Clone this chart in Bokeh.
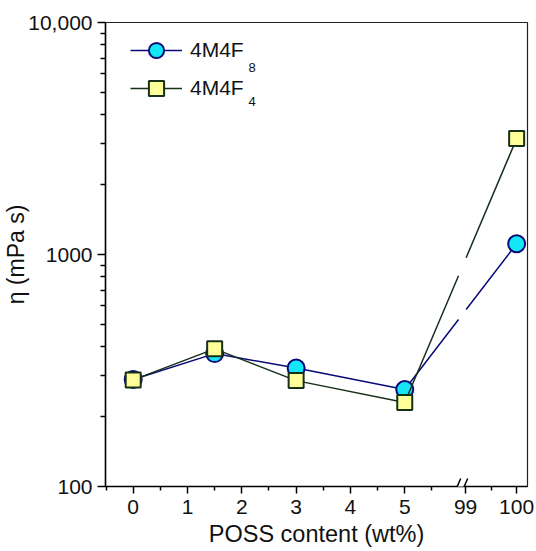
import numpy as np
from bokeh.plotting import figure
from bokeh.models import (FixedTicker, Legend, LegendItem, Label, Arrow,
                          BoxAnnotation, Range1d)
from bokeh.embed import file_html
from bokeh.resources import INLINE

# ---------------- data ----------------
poss_wt = [0, 1.5, 3, 5, 100]
eta_4m4f8 = [289, 374, 324, 262, 1112]
eta_4m4f4 = [288, 392, 286, 230, 3160]
series_label = ["4M4F", "4M4F"]
series_sub = ["8", "4"]

x_major_ticks = [0, 1, 2, 3, 4, 5, 99, 100]
x_major_labels = ["0", "1", "2", "3", "4", "5", "99", "100"]
x_minor_ticks = [-0.5, 0.5, 1.5, 2.5, 3.5, 4.5, 5.5, 99.5]
y_major_ticks = [100, 1000, 10000]
y_major_labels = ["100", "1000", "10,000"]
y_minor_ticks = [m * d for d in (100, 1000) for m in range(2, 10)]

# ---------------- broken x-axis transform ----------------
LOW_END = 5.0
HIGH_START = 99.0
HIGH_POS = 6.12
HIGH_SCALE = 0.94
GAP = (5.99, 6.13)      # display positions where lines are interrupted
BREAK_POS = 6.03

def to_disp(x):
    return x if x <= LOW_END + 0.5 else HIGH_POS + (x - HIGH_START) * HIGH_SCALE

def broken_line(xs, ys):
    dx = [to_disp(v) for v in xs]
    out_x, out_y = [], []
    for i in range(len(dx)):
        if i > 0 and dx[i - 1] < GAP[0] and dx[i] > GAP[1]:
            x0, x1 = dx[i - 1], dx[i]
            l0, l1 = np.log10(ys[i - 1]), np.log10(ys[i])
            for g, sep in ((GAP[0], True), (GAP[1], False)):
                out_x.append(g)
                out_y.append(10 ** (l0 + (l1 - l0) * (g - x0) / (x1 - x0)))
                if sep:
                    out_x.append(np.nan)
                    out_y.append(np.nan)
        out_x.append(dx[i])
        out_y.append(ys[i])
    return out_x, out_y

XMIN, XMAX = -0.51, 7.26
W, H = 536, 551
ML, MR, MT, MB = 105, 9, 22, 65
FW, FH = W - ML - MR, H - MT - MB
FONT = "Liberation Sans"

p = figure(width=W, height=H, y_axis_type="log",
           x_range=Range1d(XMIN, XMAX), y_range=Range1d(100, 10000),
           output_backend="svg", toolbar_location=None,
           min_border_left=ML, min_border_right=MR,
           min_border_top=MT, min_border_bottom=MB)
p.grid.visible = False
p.outline_line_color = "#222222"
p.outline_line_width = 1.2
p.background_fill_color = "white"

# ---------------- series ----------------
c_navy = "#0a0a78"
c_green = "#16301a"
bx, by = broken_line(poss_wt, eta_4m4f8)
l1 = p.line(bx, by, line_color=c_navy, line_width=1.5)
s1 = p.scatter([to_disp(v) for v in poss_wt], eta_4m4f8, marker="circle", size=17,
               fill_color="#14E6F5", line_color=c_navy, line_width=2)
gx, gy = broken_line(poss_wt, eta_4m4f4)
l2 = p.line(gx, gy, line_color=c_green, line_width=1.5)
s2 = p.scatter([to_disp(v) for v in poss_wt], eta_4m4f4, marker="square", size=15,
               fill_color="#FFFF99", line_color=c_green, line_width=2)

# ---------------- axes ----------------
xa = p.xaxis[0]
xa.ticker = FixedTicker(ticks=[to_disp(v) for v in x_major_ticks],
                        minor_ticks=[to_disp(v) for v in x_minor_ticks])
xa.major_label_overrides = {to_disp(v): s for v, s in zip(x_major_ticks, x_major_labels)}
xa.axis_label = "POSS content (wt%)"
xa.major_tick_out = 7
xa.minor_tick_out = 4
xa.major_label_standoff = 6
xa.axis_label_standoff = 4
xa.axis_label_text_font_size = "23.5px"

ya = p.yaxis[0]
ya.ticker = FixedTicker(ticks=y_major_ticks, minor_ticks=y_minor_ticks)
ya.major_label_overrides = {v: s for v, s in zip(y_major_ticks, y_major_labels)}
ya.major_tick_out = 8
ya.minor_tick_out = 5
ya.major_label_standoff = 5
ya.axis_label = "η (mPa s)"
ya.axis_label_standoff = -4
ya.axis_label_text_font_size = "23px"

for ax in (xa, ya):
    ax.major_tick_in = 0
    ax.minor_tick_in = 0
    ax.axis_line_width = 1.5
    ax.major_tick_line_width = 1.5
    ax.minor_tick_line_width = 1.5
    ax.axis_line_color = "black"
    ax.major_label_text_font = FONT
    ax.major_label_text_font_size = "21px"
    ax.major_label_text_color = "#111111"
    ax.axis_label_text_font = FONT
    ax.axis_label_text_font_style = "normal"
    ax.axis_label_text_color = "#111111"

# ---------------- axis break marks ----------------
bpx = (BREAK_POS - XMIN) / (XMAX - XMIN) * FW
p.add_layout(BoxAnnotation(left=bpx - 3, right=bpx + 3, bottom=-2, top=2,
                           left_units="screen", right_units="screen",
                           top_units="screen", bottom_units="screen",
                           fill_color="white", fill_alpha=1, line_color=None))
for off in (-3.5, 3.5):
    p.add_layout(Arrow(end=None, x_start=bpx + off - 3.5, y_start=-8,
                       x_end=bpx + off + 3.5, y_end=8,
                       start_units="screen", end_units="screen",
                       line_color="black", line_width=1.5))

# ---------------- legend ----------------
legend = Legend(items=[LegendItem(label=series_label[0], renderers=[l1, s1]),
                       LegendItem(label=series_label[1], renderers=[l2, s2])],
                location=(25, 379), glyph_width=52, glyph_height=38,
                label_height=30, spacing=0, padding=0, margin=0,
                label_standoff=8, border_line_color=None,
                background_fill_alpha=0, label_text_font=FONT,
                label_text_font_size="21px", label_text_color="#111111")
p.add_layout(legend)
for i, sub in enumerate(series_sub):
    p.add_layout(Label(x=143, y=419 - 34 * i, x_units="screen", y_units="screen",
                       text=sub, text_font=FONT, text_font_size="13px",
                       text_baseline="alphabetic", text_color="#111111"))

open("out.html", "w").write(file_html(p, INLINE))
